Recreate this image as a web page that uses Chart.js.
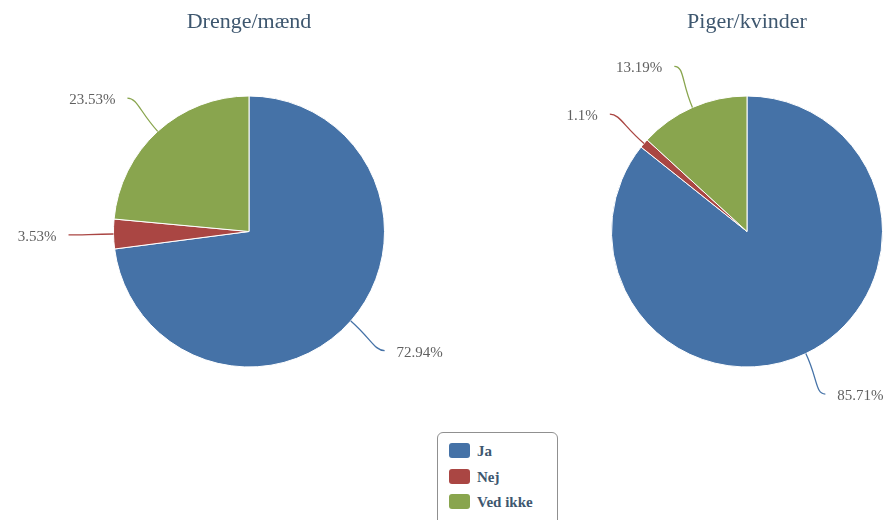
<!DOCTYPE html>
<html><head><meta charset="utf-8">
<script src="https://cdn.jsdelivr.net/npm/chart.js@4/dist/chart.umd.min.js"></script>
<style>
html,body{margin:0;padding:0;background:#fff;width:891px;height:520px;overflow:hidden;position:relative;font-family:"Liberation Serif","Times New Roman",serif}
.c{position:absolute;top:0;width:498px;height:464px}
#legend{position:absolute;left:437px;top:432px;width:121px;height:100px;border:1px solid #909090;border-radius:6px;box-sizing:border-box;background:#fff}
.item{position:absolute;left:11px;height:16px;font:bold 15px "Liberation Serif","Times New Roman",serif;color:#3E576F;line-height:16px;white-space:nowrap}
.sw{display:inline-block;width:21px;height:15px;border-radius:3px;vertical-align:top;margin-right:7px}
</style>
</head><body>
<div class="c" style="left:0"><canvas id="c1"></canvas></div>
<div class="c" style="left:498px"><canvas id="c2"></canvas></div>
<div id="legend"></div>
<script>
const categories = ['Ja', 'Nej', 'Ved ikke'];
const colors = ['#4572A7', '#AA4643', '#89A54E'];
const boysTitle = 'Drenge/mænd';
const boysValues = [72.94, 3.53, 23.53];
const girlsTitle = 'Piger/kvinder';
const girlsValues = [85.71, 1.1, 13.19];

const labelPlugin = {
  id: 'pieLabels',
  afterDatasetsDraw(chart) {
    const ctx = chart.ctx;
    const meta = chart.getDatasetMeta(0);
    const ds = chart.data.datasets[0];
    meta.data.forEach((arc, i) => {
      const p = arc.getProps(['x','y','startAngle','endAngle','outerRadius'], true);
      const mid = (p.startAngle + p.endAngle) / 2;
      const dx = Math.cos(mid), dy = Math.sin(mid);
      const r = p.outerRadius;
      const px = p.x + dx * r, py = p.y + dy * r;
      const R = r + 45;
      const ex = p.x + dx * R, ey = p.y + dy * R;
      const s = dx >= 0 ? 1 : -1;
      ctx.save();
      ctx.beginPath();
      ctx.moveTo(px, py);
      ctx.bezierCurveTo(p.x + dx * (r + 27), p.y + dy * (r + 27), ex - s * 10, ey, ex, ey);
      ctx.strokeStyle = ds.backgroundColor[i];
      ctx.lineWidth = 1.3;
      ctx.stroke();
      ctx.font = '15px "Liberation Serif", "Times New Roman", serif';
      ctx.fillStyle = '#606060';
      ctx.textAlign = s > 0 ? 'left' : 'right';
      ctx.textBaseline = 'middle';
      ctx.fillText(ds.data[i] + '%', ex + s * 12, ey + 2);
      ctx.restore();
    });
  }
};

function makePie(id, title, values) {
  return new Chart(document.getElementById(id), {
    type: 'pie',
    data: {
      labels: categories,
      datasets: [{ data: values, backgroundColor: colors, borderColor: '#ffffff', borderWidth: 1 }]
    },
    options: {
      responsive: true,
      maintainAspectRatio: false,
      animation: false,
      events: [],
      layout: { padding: { top: 0, bottom: 96.5, left: 113, right: 113 } },
      plugins: {
        legend: { display: false },
        tooltip: { enabled: false },
        title: {
          display: true, text: title, color: '#3E576F',
          font: { family: '"Liberation Serif", "Times New Roman", serif', size: 22, weight: 'normal' },
          padding: { top: 9, bottom: 60.1 }
        }
      }
    },
    plugins: [labelPlugin]
  });
}
makePie('c1', boysTitle, boysValues);
makePie('c2', girlsTitle, girlsValues);

const lg = document.getElementById('legend');
categories.forEach((c, i) => {
  const d = document.createElement('div');
  d.className = 'item';
  d.style.top = (10 + i * 25.5) + 'px';
  d.innerHTML = '<span class="sw" style="background:' + colors[i] + '"></span>';
  d.appendChild(document.createTextNode(c));
  lg.appendChild(d);
});
</script>
</body></html>
